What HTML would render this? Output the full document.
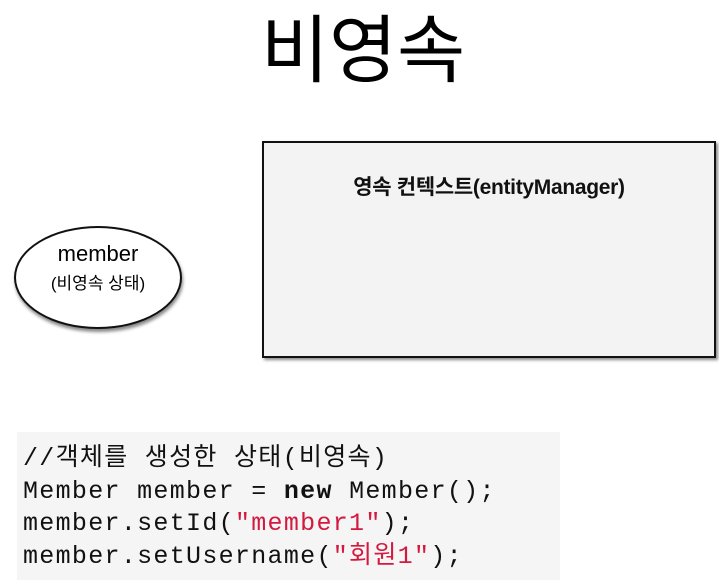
<!DOCTYPE html>
<html><head><meta charset="utf-8"><style>
body{margin:0;width:719px;height:587px;background:#fff;position:relative;overflow:hidden;font-family:"Liberation Sans","Noto Sans CJK KR",sans-serif}
.t{position:absolute;left:0;width:726px;top:6px;text-align:center;font-size:74px;line-height:90px;color:#000}
.box{position:absolute;left:262px;top:141px;width:450px;height:213px;background:#f3f3f3;border:2px solid #111;box-shadow:2px 2px 3px #888}
.bt{position:absolute;left:262px;width:454px;top:171px;text-align:center;font-size:21px;font-weight:bold;color:#111;letter-spacing:-0.3px}
.ell{position:absolute;left:14px;top:226px;width:164px;height:99px;border:2px solid #111;border-radius:50%;background:#fff;box-shadow:1px 3px 3px #888}
.e1{position:absolute;left:14px;width:168px;top:241px;text-align:center;font-size:22px}
.e2{position:absolute;left:14px;width:168px;top:269px;text-align:center;font-size:17px}
.code{position:absolute;left:17px;top:432px;width:543px;height:148px;background:#f5f5f5}
.code pre{margin:0;position:absolute;left:6px;top:11px;font-family:"Liberation Mono","Noto Sans CJK KR",monospace;font-size:25px;letter-spacing:1.3px;line-height:32.5px;color:#111}
.r{color:#d4193f}
</style></head><body>
<div class="t">비영속</div>
<div class="box"></div>
<div class="bt">영속 컨텍스트(entityManager)</div>
<div class="ell"></div>
<div class="e1">member</div>
<div class="e2">(비영속 상태)</div>
<div class="code"><pre>//객체를 생성한 상태(비영속)
Member member = <b>new</b> Member();
member.setId(<span class="r">"member1"</span>);
member.setUsername(<span class="r">"회원1"</span>);</pre></div>
</body></html>
